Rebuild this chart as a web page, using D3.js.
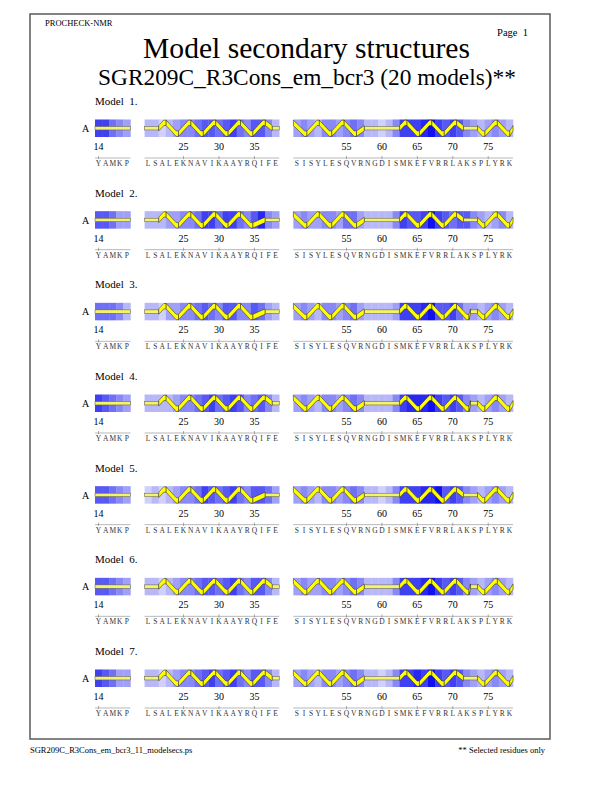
<!DOCTYPE html>
<html>
<head>
<meta charset="utf-8">
<script src="https://cdn.jsdelivr.net/npm/d3@7/dist/d3.min.js"></script>
<style>
  body { margin: 0; background: #fff; }
  svg { display: block; }
  text { font-family: "Liberation Serif", "Times New Roman", serif; }
</style>
</head>
<body>
<svg id="page" width="612" height="792"></svg>
<script>
// Selected residue ranges and their one-letter codes
var segments = [[14, 18], [20, 38], [48, 78]];
var sequence = "YAMKP" + "LSALEKNAVIKAAYRQIFE" + "SISYLESQVRNGDISMKEFVRRLAKSPLYRK";
var tickLabels = [14, 25, 30, 35, 55, 60, 65, 70, 75];

var modelNames = ["Model  1.", "Model  2.", "Model  3.", "Model  4.", "Model  5.", "Model  6.", "Model  7."];

// Shading level per residue (0 = palest, 9 = deepest blue), one string per model
var shades = [
    "77543" + "2212344566567546642" + "3432443454221247778976764323432",
    "66533" + "2223344577577546843" + "3433443553222247667976566432342",
    "55542" + "2213344565466446532" + "3432443453222237778966753323432",
    "76543" + "2222344567567645642" + "3432443454222247888976764323432",
    "66543" + "1212344576567546653" + "3432443454221247778896764323432",
    "66543" + "2212344566567546642" + "3433443454222247778976764323432",
    "76533" + "2212344567567546642" + "3432443454221247787976764323432"
];

// Helices per model: [first residue, last residue, first swing (1 up, -1 down)]
var helices = [
    [[22, 37, 1], [48, 57, -1], [63, 71, 1], [74, 78, -1]],
    [[22, 36, 1], [48, 57, -1], [63, 71, 1], [74, 78, -1]],
    [[22, 36, 1], [48, 57, -1], [63, 72, 1], [74, 78, -1]],
    [[22, 37, 1], [48, 57, -1], [63, 72, 1], [74, 78, -1]],
    [[22, 36, 1], [48, 57, -1], [63, 71, 1], [74, 78, -1]],
    [[22, 37, 1], [48, 57, -1], [63, 72, 1], [74, 78, -1]],
    [[22, 37, 1], [48, 57, -1], [63, 71, 1], [74, 78, -1]]
];

var svg = d3.select("#page");

// Lay residues out in slots, with a gap of 2 slots between segments
var residues = [];
var slot = 0;
segments.forEach(function (seg, si) {
    for (var r = seg[0]; r <= seg[1]; r++) {
        residues.push({ res: r, slot: slot, seg: si, aa: sequence[residues.length] });
        slot++;
    }
    if (si < segments.length - 1) slot += 2;
});
var slotOf = {};
residues.forEach(function (d) { slotOf[d.res] = d.slot; });
var segStarts = segments.map(function (s) { return s[0]; });

var x = d3.scaleLinear().domain([0, slot]).range([95, 513]);
var w = x(1) - x(0);
var y = d3.scaleLinear().domain([0, modelNames.length - 1]).range([105, 655]);
var shade = d3.scaleLinear().domain([0, 9]).range(["#e8e8fc", "#1010f0"]).interpolate(d3.interpolateRgb);

function resLeft(r) { return x(slotOf[r]); }
function resRight(r) { return x(slotOf[r] + 1); }

// Page frame and headings
svg.append("rect")
    .attr("x", 30).attr("y", 14).attr("width", 520).attr("height", 725)
    .attr("fill", "none").attr("stroke", "#5a5a5a").attr("stroke-width", 1.5);

function fitText(t, width) {
    var len = t.node().getComputedTextLength();
    var fs = parseFloat(t.style("font-size"));
    t.style("font-size", (fs * width / len) + "px");
}

svg.append("text").attr("x", 45).attr("y", 26).style("font-size", "8.5px").text("PROCHECK-NMR");
svg.append("text").attr("x", 528).attr("y", 36).attr("text-anchor", "end").style("font-size", "10.5px")
    .attr("xml:space", "preserve").text("Page  1");

var t1 = svg.append("text").attr("x", 306.5).attr("y", 58).attr("text-anchor", "middle")
    .style("font-size", "26px").text("Model secondary structures");
fitText(t1, 327);
var t2 = svg.append("text").attr("x", 307).attr("y", 85).attr("text-anchor", "middle")
    .style("font-size", "22px").text("SGR209C_R3Cons_em_bcr3 (20 models)**");
fitText(t2, 418);

svg.append("text").attr("x", 30).attr("y", 753).style("font-size", "8.5px")
    .text("SGR209C_R3Cons_em_bcr3_11_modelsecs.ps");
svg.append("text").attr("x", 545).attr("y", 753).attr("text-anchor", "end").style("font-size", "8.5px")
    .text("** Selected residues only");

// Helix ribbon geometry
var bandH = 17.5;
var amp = 5.4, half = 2.7, cap = 2.4;
var period = 3.5 * w;

function helixPath(xs, xe, dir, continued) {
    // a helix carried over from hidden residues starts on a crest
    var pts = continued ? [[xs, -dir]] : [[xs, 0]];
    var px = xs + (continued ? period / 2 : period / 4), s = dir;
    while (px < xe - 2) {
        pts.push([px, s]);
        px += period / 2;
        s = -s;
    }
    pts.push([xe, 0]);
    return pts;
}

modelNames.forEach(function (name, m) {
    var base = y(m);
    var top = base + 14.5;
    var mid = top + bandH / 2;
    var g = svg.append("g");

    g.append("text").attr("x", 95).attr("y", base).style("font-size", "11px")
        .attr("xml:space", "preserve").text(name);
    g.append("text").attr("x", 85.5).attr("y", mid + 3.6).attr("text-anchor", "middle")
        .style("font-size", "10px").text("A");

    // shaded residue cells
    g.selectAll("rect.cell").data(residues).enter().append("rect")
        .attr("class", "cell")
        .attr("x", function (d) { return x(d.slot); })
        .attr("y", top)
        .attr("width", w + 0.3)
        .attr("height", bandH)
        .attr("fill", function (d, i) { return shade(+shades[m][i]); });

    // coil runs: residues not inside a helix
    var inHelix = {};
    helices[m].forEach(function (h) { for (var r = h[0]; r <= h[1]; r++) inHelix[r] = true; });
    var runs = [];
    residues.forEach(function (d) {
        if (inHelix[d.res]) return;
        var last = runs[runs.length - 1];
        if (last && last.seg === d.seg && last.end === d.res - 1) last.end = d.res;
        else runs.push({ seg: d.seg, start: d.res, end: d.res });
    });
    g.selectAll("rect.coil").data(runs).enter().append("rect")
        .attr("class", "coil")
        .attr("x", function (d) { return resLeft(d.start); })
        .attr("y", mid - 1.7)
        .attr("width", function (d) { return resRight(d.end) - resLeft(d.start); })
        .attr("height", 3.4)
        .attr("fill", "#f4f46a").attr("stroke", "#5a5a40").attr("stroke-width", 0.5);

    // helices as zigzag ribbons
    helices[m].forEach(function (h) {
        var continued = h[0] !== segStarts[0] && segStarts.indexOf(h[0]) >= 0;
        var pts = helixPath(resLeft(h[0]), resRight(h[1]), h[2], continued);
        var hg = g.append("g");
        for (var i = 0; i < pts.length - 1; i++) {
            var x0 = pts[i][0] + (i > 0 ? cap / 2 : 0);
            var x1 = pts[i + 1][0] - (i + 1 < pts.length - 1 ? cap / 2 : 0);
            var y0 = mid - pts[i][1] * amp, y1 = mid - pts[i + 1][1] * amp;
            var poly = [[x0, y0 - half], [x1, y1 - half], [x1, y1 + half], [x0, y0 + half]];
            if (i + 1 < pts.length - 1) {
                poly = [[x0, y0 - half], [x1, y1 - half], [x1 + cap, y1 - half],
                        [x1 + cap, y1 + half], [x1, y1 + half], [x0, y0 + half]];
            }
            hg.append("polygon")
                .attr("points", poly.map(function (p) { return p.join(","); }).join(" "))
                .attr("fill", "#ffff00").attr("stroke", "#222").attr("stroke-width", 0.5)
                .attr("stroke-linejoin", "bevel");
        }
    });

    // residue number labels
    g.selectAll("text.num").data(tickLabels).enter().append("text")
        .attr("class", "num")
        .attr("x", function (r) { return x(slotOf[r] + 0.5); })
        .attr("y", top + 30.5)
        .attr("text-anchor", "middle")
        .style("font-size", "10px")
        .text(function (r) { return r; });

    // sequence ruler and letters
    var lineY = top + 38.5;
    segments.forEach(function (seg) {
        g.append("line")
            .attr("x1", resLeft(seg[0])).attr("x2", resRight(seg[1]))
            .attr("y1", lineY).attr("y2", lineY)
            .attr("stroke", "#9a9a9a").attr("stroke-width", 0.7);
    });
    g.selectAll("line.tick").data(tickLabels).enter().append("line")
        .attr("class", "tick")
        .attr("x1", function (r) { return x(slotOf[r] + 0.5); })
        .attr("x2", function (r) { return x(slotOf[r] + 0.5); })
        .attr("y1", lineY - 2).attr("y2", lineY + 1.2)
        .attr("stroke", "#777").attr("stroke-width", 0.6);
    g.selectAll("text.aa").data(residues).enter().append("text")
        .attr("class", "aa")
        .attr("x", function (d) { return x(d.slot + 0.5); })
        .attr("y", top + 46.5)
        .attr("text-anchor", "middle")
        .style("font-size", "7.5px")
        .attr("fill", "#333")
        .text(function (d) { return d.aa; });
});
</script>
</body>
</html>
